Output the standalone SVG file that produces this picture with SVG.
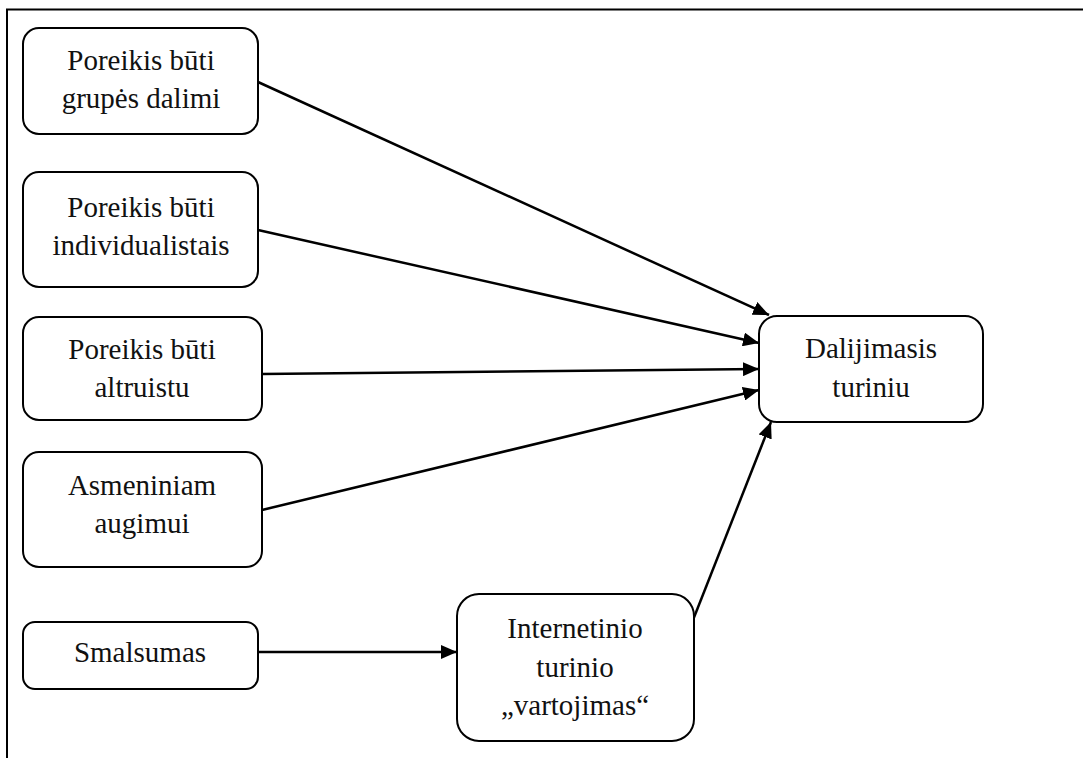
<svg xmlns="http://www.w3.org/2000/svg" width="1083" height="758" viewBox="0 0 1083 758">
  <style>
    .box { fill: #fff; stroke: #000; stroke-width: 2; }
    .edge { stroke: #000; stroke-width: 2.5; fill: none; marker-end: url(#head); }
  </style>
  <defs>
    <marker id="head" markerUnits="userSpaceOnUse" markerWidth="18" markerHeight="14" refX="16" refY="7" orient="auto">
      <path d="M0,0 L16,7 L0,14 Z" fill="#000"/>
    </marker>
  </defs>
  <rect width="1083" height="758" fill="#fff"/>
  <!-- frame -->
  <path d="M7,758 V9.5 H1083" fill="none" stroke="#000" stroke-width="2"/>

  <g id="connectors">
    <line class="edge" x1="258" y1="82" x2="769" y2="315"/>
    <line class="edge" x1="258" y1="230" x2="759" y2="343"/>
    <line class="edge" x1="262" y1="374" x2="759" y2="369"/>
    <line class="edge" x1="262" y1="510" x2="759" y2="390"/>
    <line class="edge" x1="258" y1="652" x2="457" y2="652"/>
    <line class="edge" x1="693" y1="620" x2="771" y2="422"/>
  </g>

  <g font-family="Liberation Serif, Tinos, Times New Roman, DejaVu Serif, serif" font-size="29" fill="#111" text-anchor="middle">
    <g id="n1">
      <rect class="box" x="23" y="28" width="235" height="106" rx="16"/>
      <text x="141" y="70">Poreikis būti</text>
      <text x="141" y="108">grupės dalimi</text>
    </g>
    <g id="n2">
      <rect class="box" x="23" y="172" width="235" height="115" rx="16"/>
      <text x="141" y="217">Poreikis būti</text>
      <text x="141" y="255">individualistais</text>
    </g>
    <g id="n3">
      <rect class="box" x="23" y="317" width="239" height="103" rx="16"/>
      <text x="142" y="359">Poreikis būti</text>
      <text x="142" y="397">altruistu</text>
    </g>
    <g id="n4">
      <rect class="box" x="23" y="452" width="239" height="115" rx="16"/>
      <text x="142" y="495">Asmeniniam</text>
      <text x="142" y="533">augimui</text>
    </g>
    <g id="n5">
      <rect class="box" x="23" y="622" width="235" height="67" rx="12"/>
      <text x="140" y="662">Smalsumas</text>
    </g>
    <g id="n6">
      <rect class="box" x="457" y="594" width="237" height="147" rx="22"/>
      <text x="575" y="638">Internetinio</text>
      <text x="575" y="677">turinio</text>
      <text x="575" y="715">„vartojimas“</text>
    </g>
    <g id="n7">
      <rect class="box" x="759" y="316" width="224" height="106" rx="18"/>
      <text x="871" y="358">Dalijimasis</text>
      <text x="871" y="397">turiniu</text>
    </g>
  </g>
</svg>
